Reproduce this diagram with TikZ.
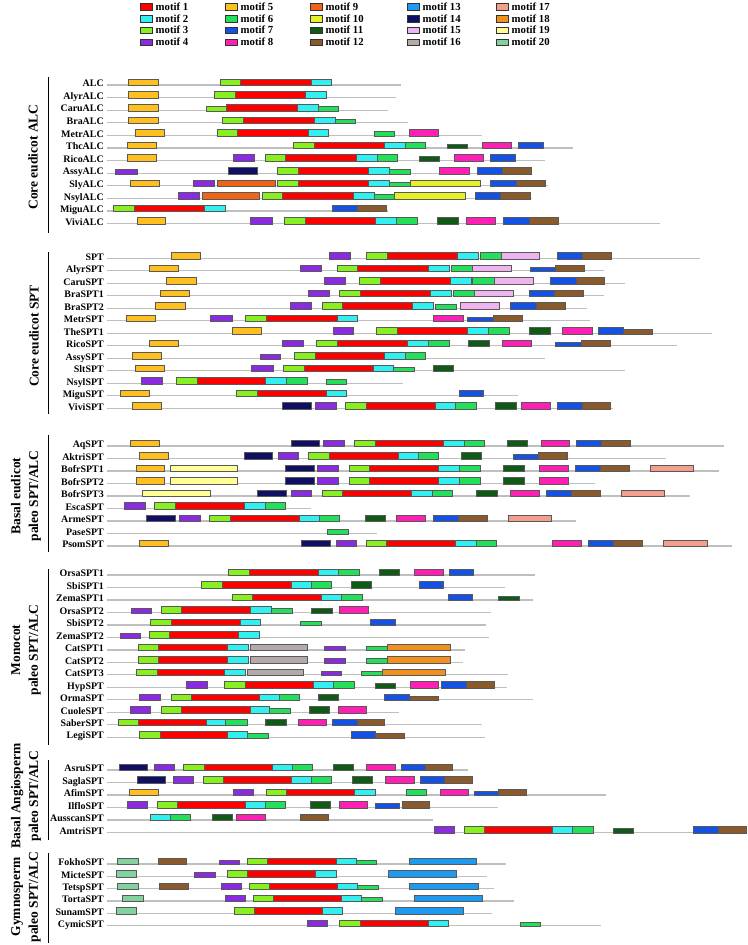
\documentclass[tikz,border=0pt]{standalone}
\usepackage{fontspec}
\setmainfont{Liberation Serif}
\usepackage{tikz}

\definecolor{m1}{HTML}{FF0000}
\definecolor{m2}{HTML}{33F0F0}
\definecolor{m3}{HTML}{88F020}
\definecolor{m4}{HTML}{8A2BE2}
\definecolor{m5}{HTML}{FFBF1F}
\definecolor{m6}{HTML}{22E05A}
\definecolor{m7}{HTML}{1452E6}
\definecolor{m8}{HTML}{FF1FB4}
\definecolor{m9}{HTML}{F06418}
\definecolor{m10}{HTML}{E6F028}
\definecolor{m11}{HTML}{0F5A14}
\definecolor{m12}{HTML}{8B5A2B}
\definecolor{m13}{HTML}{1E9BF0}
\definecolor{m14}{HTML}{0F0F64}
\definecolor{m15}{HTML}{EEB4F0}
\definecolor{m16}{HTML}{B4AAAA}
\definecolor{m17}{HTML}{F2A08C}
\definecolor{m18}{HTML}{F0901E}
\definecolor{m19}{HTML}{FFFF96}
\definecolor{m20}{HTML}{82D2A0}

% one sequence: y, name, length, boxes start/end/motif/height
\newcommand{\seqrow}[4]{%
  \node[seqname] (#2) at (104,{#1+1.7}) {#2};
  \begin{scope}[xshift=3.2cm,x=0.01449cm]
    \draw[seqline] (0,#1) -- (#3,#1);
    \foreach \a/\b/\m/\h in {#4}
      \draw[motifbox,fill=m\m] (\a,{#1-\h}) rectangle (\b,{#1+0.5});
  \end{scope}}

\begin{document}
\begin{tikzpicture}[
  x=0.03cm,y=-0.03cm,
  seqname/.style={anchor=base east,inner sep=0pt,font=\fontsize{8.5}{9}\selectfont\bfseries},
  seqline/.style={draw=black!25,line width=1.1pt},
  motifbox/.style={draw=black!65,line width=0.3pt},
  legbox/.style={draw=black!80,line width=0.5pt},
  legtext/.style={anchor=base west,inner sep=0pt,font=\fontsize{9.2}{10}\selectfont\bfseries},
  bracket/.style={draw=black,line width=0.8pt},
  grouplabel/.style={rotate=90,align=center,inner sep=0pt,font=\fontsize{11.5}{15.3}\selectfont\bfseries}
]
\useasboundingbox (0,0) rectangle (747,945);

% legend
\foreach \c/\cx in {0/140,1/225,2/310,3/407,4/496}
  \foreach \r in {0,1,2,3}{
    \pgfmathtruncatemacro{\n}{4*\c+\r+1}
    \pgfmathsetmacro{\ry}{6.7+11.8*\r}
    \draw[legbox,fill=m\n] (\cx,\ry-3.3) rectangle (\cx+12.7,\ry+3.3);
    \node[legtext] (leg\n) at (\cx+15.5,\ry+3.6) {motif \n};
  }

% Core eudicot ALC
\draw[bracket] (48,77) -- (48,233);
\node[grouplabel] (grpalc) at (33,157) {Core eudicot ALC};
\seqrow{85}{ALC}{610}{45/106/5/6, 234/277/3/6, 277/423/1/6, 423/465/2/6}
\seqrow{97.6}{AlyrALC}{599}{45/106/5/6, 222/265/3/6, 265/411/1/6, 411/454/2/6}
\seqrow{110.2}{CaruALC}{582}{45/106/5/6, 205/248/3/4, 248/394/1/6, 394/437/2/6, 437/480/6/4}
\seqrow{122.8}{BraALC}{623}{45/106/5/6, 240/283/3/6, 283/429/1/6, 429/472/2/6, 472/515/6/4}
\seqrow{135.4}{MetrALC}{776}{60/120/5/6, 228/271/3/6, 271/416/1/6, 416/459/2/6, 553/596/6/4, 626/687/8/6}
\seqrow{148}{ThcALC}{965}{42/103/5/6, 385/429/3/6, 429/574/1/6, 574/617/2/6, 617/660/6/6, 704/747/11/4, 777/837/8/6, 852/904/7/6}
\seqrow{160.6}{RicoALC}{907}{42/103/5/6, 262/306/4/6, 327/370/3/6, 370/516/1/6, 516/559/2/6, 559/602/6/6, 646/689/11/4, 719/779/8/6, 794/846/7/6}
\seqrow{173.2}{AssyALC}{881}{18/63/4/4, 251/311/14/6, 353/396/3/6, 396/542/1/6, 542/585/2/6, 585/628/6/4, 689/750/8/6, 766/818/7/6, 818/878/12/6}
\seqrow{185.8}{SlyALC}{913}{48/109/5/6, 178/222/4/6, 228/348/9/6, 353/396/3/6, 396/542/1/6, 542/585/2/6, 585/629/6/4, 629/773/10/6, 794/847/7/6, 847/907/12/6}
\seqrow{198.4}{NsylALC}{880}{147/191/4/6, 197/315/9/6, 321/364/3/6, 364/510/1/6, 510/553/2/6, 553/596/6/4, 596/741/10/6, 763/815/7/6, 815/876/12/6}
\seqrow{211}{MiguALC}{583}{13/56/3/6, 56/202/1/6, 202/245/2/6, 466/519/7/6, 519/579/12/6}
\seqrow{223.6}{ViviALC}{1145}{64/122/5/6, 298/342/4/6, 367/410/3/6, 410/556/1/6, 556/599/2/6, 599/643/6/6, 684/728/11/6, 745/805/8/6, 820/874/7/6, 874/934/12/6}

% Core eudicot SPT
\draw[bracket] (48,252) -- (48,414);
\node[grouplabel] (grpspt) at (34,336) {Core eudicot SPT};
\seqrow{258.3}{SPT}{1227}{134/194/5/6, 461/504/4/6, 537/580/3/6, 580/726/1/6, 726/769/2/6, 772/816/6/6, 816/896/15/6, 932/985/7/6, 985/1045/12/6}
\seqrow{270.8}{AlyrSPT}{1029}{87/148/5/6, 401/444/4/6, 476/519/3/6, 519/665/1/6, 665/708/2/6, 713/757/6/6, 757/838/15/6, 877/929/7/4, 929/989/12/6}
\seqrow{283.3}{CaruSPT}{1073}{124/185/5/6, 451/494/4/6, 522/565/3/6, 565/711/1/6, 711/754/2/6, 757/801/6/6, 801/882/15/6, 918/971/7/6, 971/1030/12/6}
\seqrow{295.8}{BraSPT1}{1029}{111/171/5/6, 417/461/4/6, 481/524/3/6, 524/670/1/6, 670/713/2/6, 717/761/6/6, 761/841/15/6, 874/926/7/6, 926/987/12/6}
\seqrow{308.3}{BraSPT2}{993}{101/162/5/6, 380/424/4/6, 445/488/3/6, 488/633/1/6, 633/676/2/6, 680/723/6/4, 732/813/15/6, 836/889/7/6, 889/949/12/6}
\seqrow{320.8}{MetrSPT}{1001}{40/101/5/6, 215/259/4/6, 287/330/3/6, 330/476/1/6, 476/519/2/6, 676/737/8/6, 746/799/7/4, 799/859/12/6}
\seqrow{333.3}{TheSPT1}{1252}{259/319/5/6, 468/511/4/6, 557/601/3/6, 601/746/1/6, 746/789/2/6, 789/832/6/6, 874/917/11/6, 943/1004/8/6, 1017/1069/7/6, 1069/1129/12/4}
\seqrow{345.8}{RicoSPT}{1180}{87/148/5/6, 364/406/4/6, 433/476/3/6, 476/622/1/6, 622/665/2/6, 665/708/6/6, 749/792/11/6, 818/879/8/6, 929/981/7/4, 981/1042/12/6}
\seqrow{358.3}{AssySPT}{907}{53/112/5/6, 317/360/4/4, 389/432/3/6, 432/574/1/6, 574/617/2/6, 617/659/6/6}
\seqrow{370.8}{SltSPT}{1073}{59/118/5/6, 300/344/4/6, 366/408/3/6, 408/552/1/6, 552/593/2/6, 593/636/6/4, 675/717/11/6}
\seqrow{383.3}{NsylSPT}{613}{72/115/4/6, 144/187/3/6, 187/329/1/6, 329/372/2/6, 372/415/6/6, 454/496/6/4}
\seqrow{395.8}{MiguSPT}{852}{27/87/5/6, 269/312/3/6, 312/455/1/6, 455/496/2/6, 730/780/7/6}
\seqrow{408.3}{ViviSPT}{1048}{53/112/5/6, 363/423/14/6, 431/474/4/6, 494/536/3/6, 536/680/1/6, 680/721/2/6, 721/764/6/6, 805/848/11/6, 858/917/8/6, 932/985/7/6, 985/1043/12/6}

% Basal eudicot
\draw[bracket] (48,435) -- (48,552);
\node[grouplabel] (grpbasal) at (26,496) {Basal eudicot\\paleo SPT/ALC};
\seqrow{446}{AqSPT}{1278}{48/108/5/6, 381/439/14/6, 449/491/4/6, 512/555/3/6, 555/697/1/6, 697/739/2/6, 739/781/6/6, 828/870/11/6, 899/958/8/6, 972/1024/7/6, 1024/1083/12/6}
\seqrow{458.5}{AktriSPT}{1157}{67/127/5/6, 284/343/14/6, 354/396/4/6, 417/460/3/6, 460/603/1/6, 603/645/2/6, 645/687/6/6, 733/775/11/6, 841/893/7/4, 893/952/12/6}
\seqrow{471}{BofrSPT1}{1268}{62/120/5/6, 131/271/19/6, 369/429/14/6, 436/480/4/6, 502/544/3/6, 544/687/1/6, 687/730/2/6, 730/773/6/6, 821/863/11/6, 896/955/8/6, 969/1021/7/6, 1021/1081/12/6, 1124/1214/17/6}
\seqrow{483.5}{BofrSPT2}{1011}{62/120/5/6, 131/271/19/6, 369/429/14/6, 436/480/4/6, 502/544/3/6, 544/687/1/6, 687/730/2/6, 730/773/6/6, 821/863/11/6, 896/955/8/6}
\seqrow{496}{BofrSPT3}{1208}{73/215/19/6, 312/372/14/6, 381/424/4/6, 445/488/3/6, 488/631/1/6, 631/673/2/6, 673/715/6/6, 764/808/11/6, 836/895/8/6, 910/962/7/6, 962/1021/12/6, 1064/1154/17/6}
\seqrow{508.5}{EscaSPT}{423}{36/79/4/6, 99/142/3/6, 142/285/1/6, 285/327/2/6, 327/369/6/6}
\seqrow{521}{ArmeSPT}{972}{81/141/14/6, 151/193/4/6, 213/255/3/6, 255/398/1/6, 398/440/2/6, 440/482/6/6, 534/576/11/6, 600/660/8/6, 676/728/7/6, 728/787/12/6, 831/920/17/6}
\seqrow{533.5}{PaseSPT}{560}{457/499/6/4}
\seqrow{546}{PsomSPT}{1295}{67/127/5/6, 403/463/14/6, 474/517/4/6, 537/579/3/6, 579/722/1/6, 722/764/2/6, 764/807/6/6, 921/981/8/6, 997/1049/7/6, 1049/1109/12/6, 1152/1242/17/6}

% Monocot
\draw[bracket] (48,569) -- (48,745);
\node[grouplabel] (grpmono) at (26,650) {Monocot\\paleo SPT/ALC};
\seqrow{575}{OrsaSPT1}{887}{252/295/3/6, 295/438/1/6, 438/480/2/6, 480/523/6/6, 563/605/11/6, 637/696/8/6, 709/759/7/6}
\seqrow{587.5}{SbiSPT1}{825}{196/238/3/6, 238/381/1/6, 381/423/2/6, 423/465/6/6, 506/548/11/6, 646/696/7/6}
\seqrow{600}{ZemaSPT1}{883}{259/301/3/6, 301/444/1/6, 444/486/2/6, 486/529/6/6, 706/756/7/6, 810/853/11/4}
\seqrow{612.4}{OrsaSPT2}{795}{51/93/4/4, 113/155/3/6, 155/298/1/6, 298/341/2/6, 341/384/6/4, 424/466/11/4, 482/542/8/6}
\seqrow{624.9}{SbiSPT2}{785}{91/133/3/6, 133/276/1/6, 276/318/2/6, 401/443/6/4, 545/597/7/6}
\seqrow{637.4}{ZemaSPT2}{792}{28/70/4/4, 88/130/3/6, 130/273/1/6, 273/315/2/6}
\seqrow{649.9}{CatSPT1}{742}{65/107/3/6, 107/249/1/6, 249/292/2/6, 298/414/16/6, 451/494/4/4, 537/580/6/4, 580/710/18/6}
\seqrow{662.4}{CatSPT2}{737}{65/107/3/6, 107/249/1/6, 249/292/2/6, 298/414/16/6, 451/494/4/4, 537/580/6/4, 580/710/18/6}
\seqrow{674.8}{CatSPT3}{831}{61/105/3/6, 105/244/1/6, 244/286/2/6, 291/407/16/6, 444/486/4/4, 527/570/6/4, 570/700/18/6}
\seqrow{687.3}{HypSPT}{828}{165/207/4/6, 244/286/3/6, 286/428/1/6, 428/469/2/6, 469/512/6/6, 556/598/11/4, 628/687/8/6, 693/745/7/6, 745/802/12/6}
\seqrow{699.8}{OrmaSPT}{883}{68/110/4/6, 133/175/3/6, 175/316/1/6, 316/357/2/6, 357/399/6/6, 438/480/11/6, 575/626/7/6, 629/687/12/4}
\seqrow{712.3}{CuoleSPT}{605}{48/91/4/6, 113/154/3/6, 154/296/1/6, 296/337/2/6, 337/380/6/4, 419/461/11/6, 480/538/8/6}
\seqrow{724.8}{SaberSPT}{777}{23/65/3/6, 65/205/1/6, 205/246/2/6, 246/290/6/6, 329/371/11/6, 396/454/8/6, 467/518/7/6, 518/575/12/6}
\seqrow{737.2}{LegiSPT}{783}{68/110/3/6, 110/250/1/6, 250/291/2/6, 291/334/6/4, 505/556/7/6, 556/615/12/4}

% Basal Angiosperm
\draw[bracket] (48,760) -- (48,840);
\node[grouplabel] (grpangio) at (26,796) {Basal Angiosperm\\paleo SPT/ALC};
\seqrow{770}{AsruSPT}{748}{25/84/14/6, 98/140/4/6, 159/201/3/6, 201/342/1/6, 342/384/2/6, 384/426/6/6, 468/510/11/6, 538/597/8/6, 609/660/7/6, 660/716/12/6}
\seqrow{782.5}{SaglaSPT}{757}{64/122/14/6, 137/178/4/6, 199/241/3/6, 241/382/1/6, 382/423/2/6, 423/465/6/6, 508/549/11/6, 577/636/8/6, 648/699/7/6, 699/756/12/6}
\seqrow{795}{AfimSPT}{1033}{47/106/5/6, 262/304/4/6, 330/372/3/6, 372/513/1/6, 513/555/2/6, 619/661/6/6, 690/748/8/6, 760/810/7/4, 810/868/12/6}
\seqrow{807.5}{IlfloSPT}{809}{43/84/4/6, 104/146/3/6, 146/286/1/6, 286/328/2/6, 328/370/6/6, 421/462/11/6, 481/540/8/6, 555/605/7/4, 611/668/12/6}
\seqrow{820}{AusscanSPT}{675}{90/132/2/6, 132/173/6/6, 218/260/11/6, 268/327/8/6, 401/459/12/6}
\seqrow{832.5}{AmtriSPT}{1325}{678/720/4/6, 740/782/3/6, 782/922/1/6, 922/964/2/6, 964/1006/6/6, 1048/1090/11/4, 1213/1265/7/6, 1265/1323/12/6}

% Gymnosperm
\draw[bracket] (48,853) -- (48,943);
\node[grouplabel] (grpgymno) at (26,897) {Gymnosperm\\paleo SPT/ALC};
\seqrow{864}{FokhoSPT}{827}{22/65/20/6, 107/165/12/6, 233/275/4/4, 291/333/3/6, 333/475/1/6, 475/516/2/6, 516/558/6/4, 625/765/13/6}
\seqrow{876.3}{MicteSPT}{788}{19/62/20/6, 182/224/4/4, 249/291/3/6, 291/431/1/6, 431/474/2/6, 583/723/13/6}
\seqrow{888.7}{TetspSPT}{802}{22/65/20/6, 109/168/12/6, 236/278/4/6, 294/337/3/6, 337/478/1/6, 478/519/2/6, 519/562/6/4, 627/768/13/6}
\seqrow{901}{TortaSPT}{843}{33/75/20/6, 245/287/4/6, 303/345/3/6, 345/486/1/6, 486/527/2/6, 527/570/6/4, 637/777/13/6}
\seqrow{913.4}{SunamSPT}{797}{19/62/20/6, 263/305/3/6, 305/446/1/6, 446/488/2/6, 598/738/13/6}
\seqrow{925.8}{CymicSPT}{1023}{415/457/4/6, 482/524/3/6, 524/665/1/6, 665/706/2/6, 855/897/6/4}
\end{tikzpicture}
\end{document}
